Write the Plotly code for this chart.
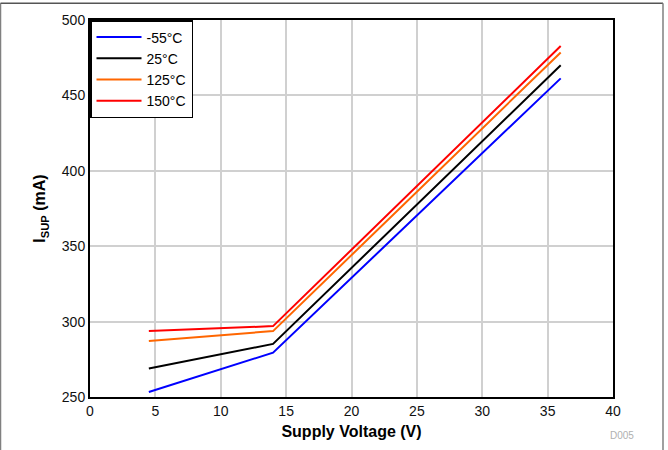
import plotly.graph_objects as go

voltage = [4.5, 14.0, 36.0]
names = ["-55°C", "25°C", "125°C", "150°C"]
i_m55 = [253.3, 279.4, 461.3]
i_25 = [268.9, 285.2, 470.0]
i_125 = [287.2, 293.7, 478.5]
i_150 = [293.7, 297.0, 482.7]
colors = ["#0000ff", "#000000", "#ff6600", "#ff0000"]

fig = go.Figure()
for name, ys, c in zip(names, [i_m55, i_25, i_125, i_150], colors):
    fig.add_trace(go.Scatter(x=voltage, y=ys, mode="lines", name=name,
                             line=dict(color=c, width=2)))

FONT = "Liberation Sans, Arial, sans-serif"
fig.update_layout(
    width=668, height=450,
    margin=dict(l=90, r=55, t=18, b=49),
    paper_bgcolor="white", plot_bgcolor="white",
    font=dict(family=FONT, size=14, color="#111"),
    showlegend=True,
    legend=dict(x=0, y=1, xanchor="left", yanchor="top",
                bordercolor="black", borderwidth=1.5, bgcolor="white",
                font=dict(size=14, color="black"), tracegroupgap=0,
                itemwidth=45),
    xaxis=dict(range=[0, 40], dtick=5, tick0=0,
               showgrid=True, gridcolor="#d0d0d0", gridwidth=1.5,
               showline=True, linecolor="black", linewidth=2, mirror=True,
               ticks="", zeroline=False, tickfont=dict(size=14),
               title=dict(text="<b>Supply Voltage (V)</b>", font=dict(size=16, color="black"), standoff=8)),
    yaxis=dict(range=[250, 500], dtick=50, tick0=250,
               showgrid=True, gridcolor="#d0d0d0", gridwidth=1.5,
               showline=True, linecolor="black", linewidth=2, mirror=True,
               ticks="", zeroline=False, tickfont=dict(size=14),
               title=dict(text="<b>I<sub>SUP</sub> (mA)</b>", font=dict(size=16, color="black"), standoff=12)),
)

# image frame
fig.add_shape(type="line", xref="paper", yref="paper", x0=-0.1711, x1=-0.1711, y0=-0.2, y1=1.0444,
              line=dict(color="#808080", width=1.5))
fig.add_shape(type="line", xref="paper", yref="paper", x0=-0.1711, x1=1.0956, y0=1.0444, y1=1.0444,
              line=dict(color="#555555", width=1.5))
fig.add_shape(type="line", xref="paper", yref="paper", x0=1.0956, x1=1.0956, y0=-0.2, y1=1.0444,
              line=dict(color="#808080", width=1.5))

fig.add_annotation(text="D005", xref="paper", yref="paper", x=1.017, y=-0.102,
                   xanchor="center", yanchor="middle", showarrow=False,
                   font=dict(size=10, color="#b0b0b0", family=FONT))

fig.write_html("out.html", config={"displayModeBar": False},
               post_script="document.body.style.margin='0px';")
